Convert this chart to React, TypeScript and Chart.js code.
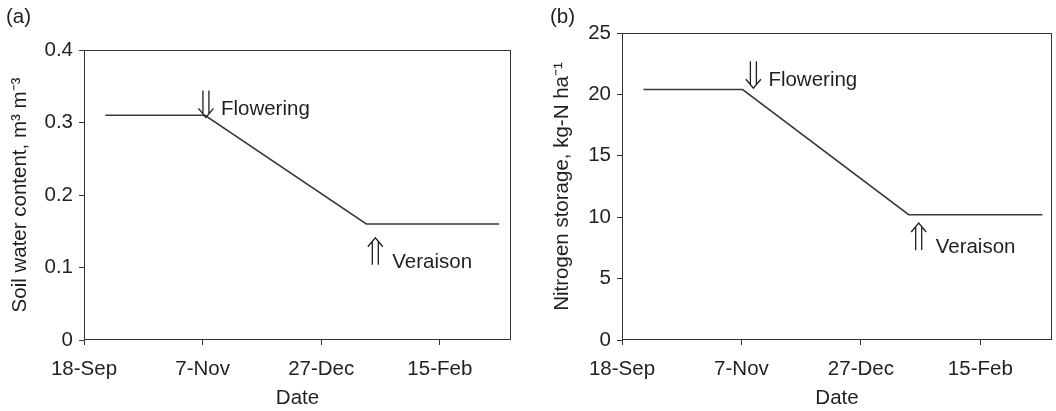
import React, { useEffect, useRef } from 'react';
import { Chart, registerables } from 'chart.js';

Chart.register(...registerables);

// x axis: days after 18-Sep
const tickDays = [0, 50, 100, 150];
const tickDates = ['18-Sep', '7-Nov', '27-Dec', '15-Feb'];
const dayMax = 180;

// panel (a): soil water content
const soilDays = [9, 51, 119, 175];
const soilWater = [0.31, 0.31, 0.16, 0.16];
const soilTicks = [0, 0.1, 0.2, 0.3, 0.4];

// panel (b): nitrogen storage
const nDays = [9, 50.5, 120, 176];
const nStorage = [20.4, 20.4, 10.2, 10.2];
const nTicks = [0, 5, 10, 15, 20, 25];

// stage markers (arrow tip anchored to data coordinates)
const soilMarks = [
  { label: 'Flowering', day: 51.4, value: 0.307, dir: 'down' },
  { label: 'Veraison', day: 122.8, value: 0.141, dir: 'up' },
];
const nMarks = [
  { label: 'Flowering', day: 55, value: 20.5, dir: 'down' },
  { label: 'Veraison', day: 124.2, value: 9.53, dir: 'up' },
];

const FONT = '"Liberation Sans", Arial, Helvetica, sans-serif';
const FS = 20.5;
const INK = '#231f20';
const LINE = '#3a3a3a';

function drawArrow(ctx: CanvasRenderingContext2D, cx: number, ty: number, dir: string) {
  const s = dir === 'down' ? -1 : 1;
  ctx.beginPath();
  ctx.moveTo(cx - 3, ty + s * 4);
  ctx.lineTo(cx - 3, ty + s * 27);
  ctx.moveTo(cx + 3, ty + s * 4);
  ctx.lineTo(cx + 3, ty + s * 27);
  ctx.moveTo(cx - 7.5, ty + s * 9);
  ctx.lineTo(cx, ty);
  ctx.lineTo(cx + 7.5, ty + s * 9);
  ctx.stroke();
}

const decorPlugin = {
  id: 'decor',
  afterDraw(chart: any, _args: any, opts: any) {
    const { ctx, chartArea: a, scales } = chart;
    ctx.save();
    ctx.strokeStyle = '#333';
    ctx.lineWidth = 1;
    const l = Math.round(a.left) + 0.5;
    const t = Math.round(a.top) + 0.5;
    const r = Math.round(a.right) - 0.5;
    const b = Math.round(a.bottom) - 0.5;
    ctx.strokeRect(l, t, r - l, b - t);

    ctx.fillStyle = INK;
    ctx.font = `${FS}px ${FONT}`;
    ctx.textBaseline = 'alphabetic';
    ctx.textAlign = 'left';
    ctx.fillText(opts.panel, opts.panelX, opts.panelY);

    ctx.strokeStyle = INK;
    ctx.lineWidth = 1.3;
    for (const m of opts.marks || []) {
      const cx = scales.x.getPixelForValue(m.day);
      const ty = scales.y.getPixelForValue(m.value);
      drawArrow(ctx, cx, ty, m.dir);
      if (m.dir === 'down') ctx.fillText(m.label, cx + 15, ty - 2);
      else ctx.fillText(m.label, cx + 17, ty + 30);
    }
    ctx.restore();
  },
};

function makeConfig(p: {
  days: number[];
  values: number[];
  yTicks: number[];
  yTitle: string;
  yWidth: number;
  yTitlePad: number;
  top: number;
  right: number;
  marks: any[];
  panel: string;
  panelX: number;
}) {
  return {
    type: 'line' as const,
    data: {
      datasets: [
        {
          data: p.days.map((d, i) => ({ x: d, y: p.values[i] })),
          borderColor: LINE,
          borderWidth: 1.6,
          pointRadius: 0,
          tension: 0,
          fill: false,
        },
      ],
    },
    options: {
      animation: false,
      responsive: false,
      events: [],
      layout: { padding: { top: p.top, right: p.right, left: 0, bottom: 0 } },
      plugins: {
        legend: { display: false },
        tooltip: { enabled: false },
        decor: { marks: p.marks, panel: p.panel, panelX: p.panelX, panelY: 23 },
      },
      scales: {
        x: {
          type: 'linear',
          min: 0,
          max: dayMax,
          afterBuildTicks: (s: any) => {
            s.ticks = tickDays.map((v) => ({ value: v }));
          },
          afterFit: (s: any) => {
            s.height = 71;
          },
          ticks: {
            autoSkip: false,
            maxRotation: 0,
            padding: 12,
            color: INK,
            font: { family: FONT, size: FS },
            callback: (v: number) => {
              const i = tickDays.indexOf(v);
              return i >= 0 ? tickDates[i] : '';
            },
          },
          grid: { display: true, drawOnChartArea: false, drawTicks: true, tickLength: 5, color: '#333' },
          border: { display: false },
          title: {
            display: true,
            text: 'Date',
            color: INK,
            font: { family: FONT, size: FS },
            padding: { top: 0, bottom: 0 },
          },
        },
        y: {
          type: 'linear',
          min: p.yTicks[0],
          max: p.yTicks[p.yTicks.length - 1],
          afterBuildTicks: (s: any) => {
            s.ticks = p.yTicks.map((v) => ({ value: v }));
          },
          afterFit: (s: any) => {
            s.width = p.yWidth;
          },
          ticks: {
            autoSkip: false,
            padding: 6,
            color: INK,
            font: { family: FONT, size: FS },
            callback: (v: number) => String(v),
          },
          grid: { display: true, drawOnChartArea: false, drawTicks: true, tickLength: 5, color: '#333' },
          border: { display: false },
          title: {
            display: true,
            text: p.yTitle,
            color: INK,
            font: { family: FONT, size: FS },
            padding: { top: p.yTitlePad, bottom: 0 },
          },
        },
      },
    },
    plugins: [decorPlugin],
  };
}

export default function App() {
  const refA = useRef<HTMLCanvasElement>(null);
  const refB = useRef<HTMLCanvasElement>(null);

  useEffect(() => {
    const ca = new Chart(
      refA.current as HTMLCanvasElement,
      makeConfig({
        days: soilDays,
        values: soilWater,
        yTicks: soilTicks,
        yTitle: 'Soil water content, m³ m⁻³',
        yWidth: 84,
        yTitlePad: 8,
        top: 50,
        right: 19,
        marks: soilMarks,
        panel: '(a)',
        panelX: 6,
      }) as any
    );
    const cb = new Chart(
      refB.current as HTMLCanvasElement,
      makeConfig({
        days: nDays,
        values: nStorage,
        yTicks: nTicks,
        yTitle: 'Nitrogen storage, kg-N ha⁻¹',
        yWidth: 92,
        yTitlePad: 20,
        top: 33,
        right: 4,
        marks: nMarks,
        panel: '(b)',
        panelX: 20,
      }) as any
    );
    return () => {
      ca.destroy();
      cb.destroy();
    };
  }, []);

  return (
    <div style={{ position: 'absolute', left: 0, top: 0, width: 1056, height: 411, background: '#fff' }}>
      <canvas ref={refA} width={530} height={411} style={{ position: 'absolute', left: 0, top: 0 }} />
      <canvas ref={refB} width={526} height={411} style={{ position: 'absolute', left: 530, top: 0 }} />
    </div>
  );
}
